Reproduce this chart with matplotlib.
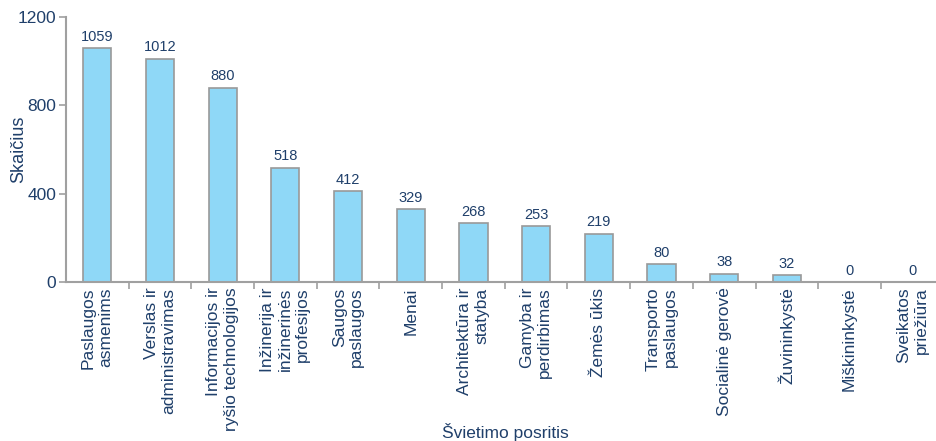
# Švietimo posričiai - stulpelinė diagrama
import numpy as np
import matplotlib.pyplot as plt

categories = ['Paslaugos\nasmenims', 'Verslas ir\nadministravimas',
              'Informacijos ir\nryšio technologijos', 'Inžinerija ir\ninžinerinės\nprofesijos',
              'Saugos\npaslaugos', 'Menai', 'Architektūra ir\nstatyba', 'Gamyba ir\nperdirbimas',
              'Žemės ūkis', 'Transporto\npaslaugos', 'Socialinė gerovė', 'Žuvininkystė',
              'Miškininkystė', 'Sveikatos\npriežiūra']
values = [1059, 1012, 880, 518, 412, 329, 268, 253, 219, 80, 38, 32, 0, 0]
yticks = [0, 400, 800, 1200]

text_col = '#1f3f6a'
axis_col = '#a0a0a0'
plt.rcParams['font.family'] = ['Liberation Sans', 'DejaVu Sans']

fig = plt.figure(figsize=(9.37, 4.41), dpi=100)
ax = fig.add_axes([0.0704, 0.3605, 0.93, 0.601])

x = np.arange(len(categories))
bars = ax.bar(x, values, width=0.45, color='#8fd8f7', edgecolor='#999999', linewidth=1.2)
ax.bar_label(bars, labels=[str(v) for v in values], padding=3, fontsize=10.5, color=text_col)

ax.set_xlim(-0.5, 13.4)
ax.set_ylim(0, 1200)
ax.set_yticks(yticks)
ax.tick_params(axis='y', labelsize=12.5, colors=axis_col, labelcolor=text_col, length=5, width=1.2, pad=2)

ax.set_xticks(x)
ax.set_xticklabels(categories, rotation=90, fontsize=12.5, color=text_col,
                   ha='center', va='top', multialignment='right')
ax.tick_params(axis='x', which='major', length=0, pad=4)
ax.set_xticks(np.arange(0.5, 13.5, 1), minor=True)
ax.tick_params(axis='x', which='minor', length=5, width=1.2, colors=axis_col)

for s in ['top', 'right']:
    ax.spines[s].set_visible(False)
for s in ['left', 'bottom']:
    ax.spines[s].set_color(axis_col)
    ax.spines[s].set_linewidth(1.5)

ax.set_ylabel('Skaičius', fontsize=13, color=text_col)
ax.yaxis.set_label_coords(-0.045, 0.5)
fig.text(0.539, 0.0, 'Švietimo posritis', fontsize=12.5, color=text_col, ha='center', va='bottom')

plt.savefig('out.png', dpi=100)
